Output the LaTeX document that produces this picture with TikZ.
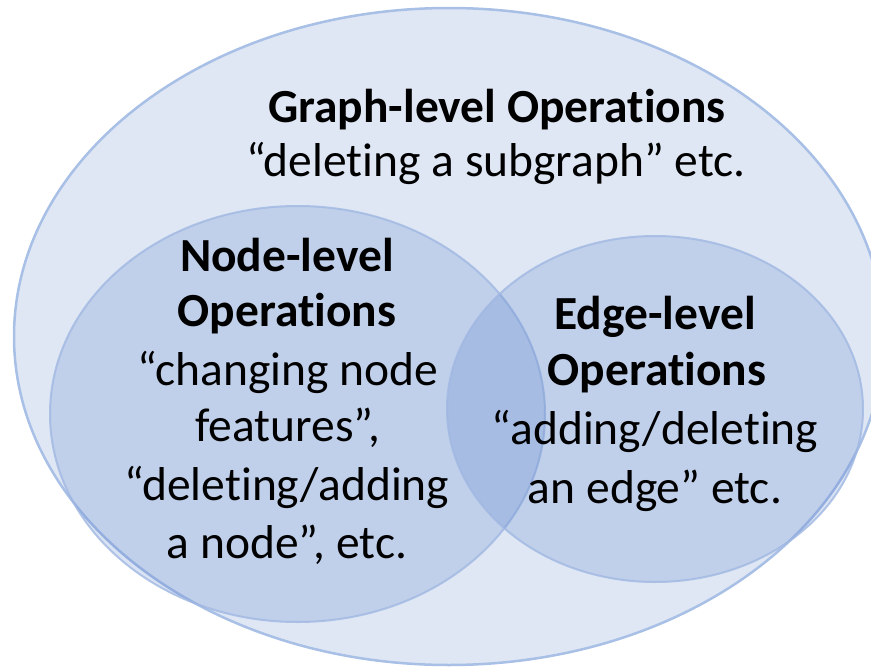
\documentclass[tikz,border=0pt]{standalone}
\usepackage{fontspec}
\setmainfont{Carlito}[Ligatures=NoCommon]
\definecolor{pblue}{RGB}{68,114,196}
\definecolor{bigfill}{RGB}{223,231,244}
\definecolor{bigline}{RGB}{168,191,230}
\definecolor{inline}{RGB}{160,184,226}
\tikzset{
  txt/.style={anchor=base, inner sep=0pt, font=\fontsize{47.5}{57}\selectfont},
  btxt/.style={txt, font=\fontsize{47.5}{57}\selectfont\bfseries},
  inner/.style={fill=pblue, fill opacity=0.2, draw=inline, draw opacity=0.8, line width=2pt}
}
\begin{document}
\begin{tikzpicture}[x=1pt,y=-1pt]
\useasboundingbox (0,0) rectangle (871,667);
\clip (0,0) rectangle (871,667);
\draw[fill=bigfill, draw=bigline, line width=2.5pt] (449,336.5) ellipse [x radius=435, y radius=328.5];
\path[inner] (297.5,414) ellipse [x radius=247.5, y radius=208];
\path[inner] (655,409) ellipse [x radius=208, y radius=173];
% graph-level
\node[btxt] (g1) at (497,122) {Graph-level Operations};
\node[txt] (g2) at (496,176) {“deleting a subgraph” etc.};
% node-level
\node[btxt] (n1) at (287,271) {Node-level};
\node[btxt] (n2) at (287,326) {Operations};
\node[txt] (n3) at (288,385) {“changing node};
\node[txt] (n4) at (288,441) {features”,};
\node[txt] (n5) at (287,500) {“deleting/adding};
\node[txt] (n6) at (287,558) {a node”, etc.};
% edge-level
\node[btxt] (e1) at (655,329) {Edge-level};
\node[btxt] (e2) at (657,385) {Operations};
\node[txt] (e3) at (655,444) {“adding/deleting};
\node[txt] (e4) at (655,503) {an edge” etc.};
\end{tikzpicture}
\end{document}
